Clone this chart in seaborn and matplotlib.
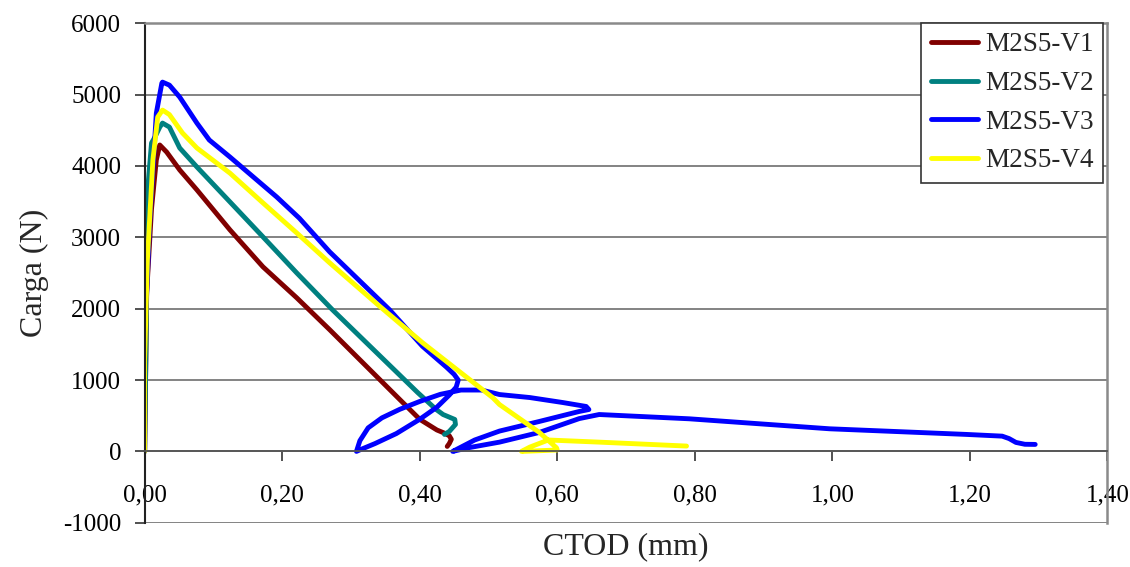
import pandas as pd
import matplotlib
matplotlib.use("Agg")
import matplotlib.pyplot as plt
import seaborn as sns

sns.set_style("ticks")
plt.rcParams["font.family"] = ["Liberation Serif", "DejaVu Serif"]
plt.rcParams["axes.unicode_minus"] = False

# ---------------------------------------------------------
# Data (CTOD in mm, Carga in N)
# ---------------------------------------------------------
series_names = ["M2S5-V1", "M2S5-V2", "M2S5-V3", "M2S5-V4"]
series_colors = ["#800000", "#008080", "#0000FF", "#FFFF00"]

v1_ctod = [0.0, 0.003, 0.010, 0.017, 0.022, 0.032, 0.051, 0.076, 0.124, 0.172,
           0.221, 0.269, 0.371, 0.400, 0.425, 0.435, 0.443, 0.446, 0.443,
           0.440]
v1_carga = [0, 2224, 3400, 4084, 4294, 4195, 3944, 3665, 3105, 2587,
            2154, 1706, 727, 450, 300, 260, 220, 170, 110,
            70]

v2_ctod = [0.0, 0.002, 0.004, 0.010, 0.015, 0.022, 0.026, 0.036, 0.051, 0.076,
           0.124, 0.172, 0.221, 0.273, 0.397, 0.424, 0.434, 0.451, 0.452,
           0.443, 0.436]
v2_carga = [0, 1500, 3622, 4322, 4405, 4545, 4601, 4545, 4252, 3986,
            3497, 3007, 2503, 1986, 825, 587, 517, 448, 378,
            280, 238]

v3_ctod = [0.0, 0.0, 0.007, 0.017, 0.025, 0.026, 0.036, 0.051, 0.076, 0.094,
           0.124, 0.192, 0.225, 0.269, 0.356, 0.404, 0.439, 0.450, 0.456,
           0.453, 0.443, 0.425, 0.400, 0.366, 0.335, 0.315, 0.308,
           0.313, 0.325, 0.345, 0.371, 0.400, 0.430, 0.460, 0.490,
           0.516, 0.56, 0.608, 0.642, 0.646, 0.632,
           0.574, 0.516, 0.48, 0.46, 0.448, 0.47, 0.516, 0.574, 0.632,
           0.661, 0.792, 0.996, 1.195, 1.247, 1.257, 1.267, 1.280, 1.295]
v3_carga = [0, 1524, 3147, 4741, 5160, 5175, 5133, 4965, 4601, 4364,
            4126, 3566, 3268, 2797, 1986, 1473, 1180, 1080, 1000,
            900, 790, 620, 450, 250, 110, 30, 0,
            150, 330, 470, 590, 700, 800, 860, 860,
            797, 755, 685, 630, 587, 560,
            420, 285, 160, 60, 0, 50, 130, 266, 460,
            517, 457, 317, 238, 214, 180, 126, 100, 98]

v4_ctod = [0.0, 0.0, 0.0, 0.004, 0.012, 0.019, 0.026, 0.036, 0.055, 0.076,
           0.124, 0.172, 0.221, 0.269, 0.342, 0.404, 0.506, 0.516, 0.574,
           0.599, 0.60, 0.575, 0.548, 0.560, 0.587, 0.661, 0.788]
v4_carga = [0, 28, 1287, 2685, 4084, 4685, 4783, 4720, 4462, 4252,
            3900, 3483, 3063, 2643, 2032, 1524, 755, 657, 266,
            50, 20, 10, 0, 60, 160, 130, 75]

all_ctod = [v1_ctod, v2_ctod, v3_ctod, v4_ctod]
all_carga = [v1_carga, v2_carga, v3_carga, v4_carga]

x_ticks = [0.0, 0.2, 0.4, 0.6, 0.8, 1.0, 1.2, 1.4]
x_tick_labels = ["0,00", "0,20", "0,40", "0,60", "0,80", "1,00", "1,20", "1,40"]
y_ticks = [-1000, 0, 1000, 2000, 3000, 4000, 5000, 6000]

frames = []
for name, xs, ys in zip(series_names, all_ctod, all_carga):
    frames.append(pd.DataFrame({"ctod": xs, "carga": ys, "serie": name}))
df = pd.concat(frames, ignore_index=True)

# ---------------------------------------------------------
# Plot
# ---------------------------------------------------------
fig = plt.figure(figsize=(11.3, 5.67), dpi=100)
ax = fig.add_axes([0.128, 0.078, 0.852, 0.881])

sns.lineplot(data=df, x="ctod", y="carga", hue="serie", hue_order=series_names,
             palette=dict(zip(series_names, series_colors)), units="serie",
             estimator=None, sort=False, lw=3.5, ax=ax)

ax.set_xlim(0, 1.4)
ax.set_ylim(-1000, 6000)
ax.set_xticks(x_ticks)
ax.set_xticklabels(x_tick_labels)
ax.set_yticks(y_ticks)

ax.yaxis.grid(True, color="#7a7a7a", lw=1.3)
ax.xaxis.grid(False)
ax.set_axisbelow(True)

ax.spines["bottom"].set_position(("data", 0))
ax.spines["bottom"].set_color("#555555")
ax.spines["bottom"].set_linewidth(1.3)
ax.spines["left"].set_color("#222222")
ax.spines["left"].set_linewidth(1.5)
for side in ["top", "right"]:
    ax.spines[side].set_visible(True)
    ax.spines[side].set_color("#8a8a8a")
    ax.spines[side].set_linewidth(1.8)

ax.tick_params(axis="x", direction="out", length=7, width=1.2, pad=17,
               labelsize=18, colors="#333333", labelcolor="black")
ax.tick_params(axis="y", direction="out", length=7, width=1.2, pad=10,
               labelsize=18, colors="#333333", labelcolor="black")

ax.set_xlabel("CTOD (mm)", fontsize=23)
ax.xaxis.set_label_coords(0.5, -0.018)
ax.set_ylabel("Carga (N)", fontsize=23, labelpad=10)

handles, labels = ax.get_legend_handles_labels()
leg = ax.legend(handles, labels, loc="upper right",
                bbox_to_anchor=(1103 / 1130, 1 - 23 / 567),
                bbox_transform=fig.transFigure, fontsize=19.5,
                frameon=True, fancybox=False, framealpha=1,
                edgecolor="#333333", borderpad=0.35, labelspacing=0.5,
                handlelength=1.75, handletextpad=0.25, borderaxespad=0)
leg.get_frame().set_linewidth(1.2)
for line in leg.get_lines():
    line.set_linewidth(3.5)

fig.savefig("out.png", dpi=100)
